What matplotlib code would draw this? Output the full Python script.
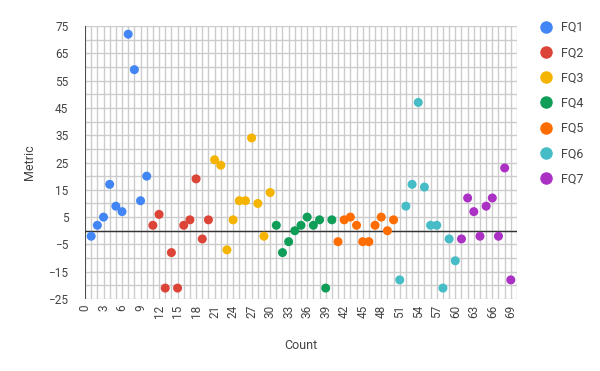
import matplotlib
matplotlib.use("Agg")
import matplotlib.pyplot as plt
from matplotlib.lines import Line2D
import numpy as np

plt.rcParams['font.family'] = ['Roboto', 'DejaVu Sans']

series_names = ["FQ1", "FQ2", "FQ3", "FQ4", "FQ5", "FQ6", "FQ7"]
colors = ["#4285F4", "#DB4437", "#F4B400", "#0F9D58", "#FF6D01", "#46BDC6", "#AB30C4"]

fq1_x = [1, 2, 3, 4, 5, 6, 7, 8, 9, 10]
fq1_y = [-2, 2, 5, 17, 9, 7, 72, 59, 11, 20]
fq2_x = [11, 12, 13, 14, 15, 16, 17, 18, 19, 20]
fq2_y = [2, 6, -21, -8, -21, 2, 4, 19, -3, 4]
fq3_x = [21, 22, 23, 24, 25, 26, 27, 28, 29, 30]
fq3_y = [26, 24, -7, 4, 11, 11, 34, 10, -2, 14]
fq4_x = [31, 32, 33, 34, 35, 36, 37, 38, 39, 40]
fq4_y = [2, -8, -4, 0, 2, 5, 2, 4, -21, 4]
fq5_x = [41, 42, 43, 44, 45, 46, 47, 48, 49, 50]
fq5_y = [-4, 4, 5, 2, -4, -4, 2, 5, 0, 4]
fq6_x = [51, 52, 53, 54, 55, 56, 57, 58, 59, 60]
fq6_y = [-18, 9, 17, 47, 16, 2, 2, -21, -3, -11]
fq7_x = [61, 62, 63, 64, 65, 66, 67, 68, 69]
fq7_y = [-3, 12, 7, -2, 9, 12, -2, 23, -18]

xs = [fq1_x, fq2_x, fq3_x, fq4_x, fq5_x, fq6_x, fq7_x]
ys = [fq1_y, fq2_y, fq3_y, fq4_y, fq5_y, fq6_y, fq7_y]

x_ticks = list(range(0, 70, 3))
y_ticks = list(range(-25, 76, 10))

fig = plt.figure(figsize=(6.0, 3.71), dpi=100)
ax = fig.add_axes([85/600, 1 - 299/371, 432/600, 273/371])

ax.set_xlim(0, 70)
ax.set_ylim(-25, 75)

ax.set_xticks(np.arange(0, 71, 1), minor=True)
ax.set_yticks(np.arange(-25, 76, 5), minor=True)
ax.set_xticks(x_ticks)
ax.set_yticks(y_ticks)
ax.grid(True, which='both', color='#cccccc', linewidth=1)
ax.set_axisbelow(True)
ax.tick_params(which='both', length=0)
ax.tick_params(axis='x', labelrotation=90, pad=4, labelsize=8.5, labelcolor='#444444')
ax.tick_params(axis='y', pad=12, labelsize=8.5, labelcolor='#444444')
for s in ax.spines.values():
    s.set_visible(False)
ax.axhline(0, color='#333333', linewidth=1, zorder=1.5)
ax.axvline(0, color='#333333', linewidth=1.2, zorder=1.5)

for x, y, c in zip(xs, ys, colors):
    ax.scatter(x, y, s=42, color=c, edgecolors='none', zorder=3)

ax.set_xlabel("Count", fontsize=9, color='#444444', labelpad=15)
ax.set_ylabel("Metric", fontsize=9, color='#444444', labelpad=9)

handles = [Line2D([], [], marker='o', linestyle='none', markersize=9, color=c, markeredgewidth=0)
           for c in colors]
fig.legend(handles, series_names, loc='upper left', bbox_to_anchor=(533/600, 1 - 16/371),
           frameon=False, fontsize=9, labelcolor='#444444', handletextpad=0.6,
           labelspacing=0.98, handlelength=1.2, borderaxespad=0)

fig.savefig("out.png", dpi=100)
